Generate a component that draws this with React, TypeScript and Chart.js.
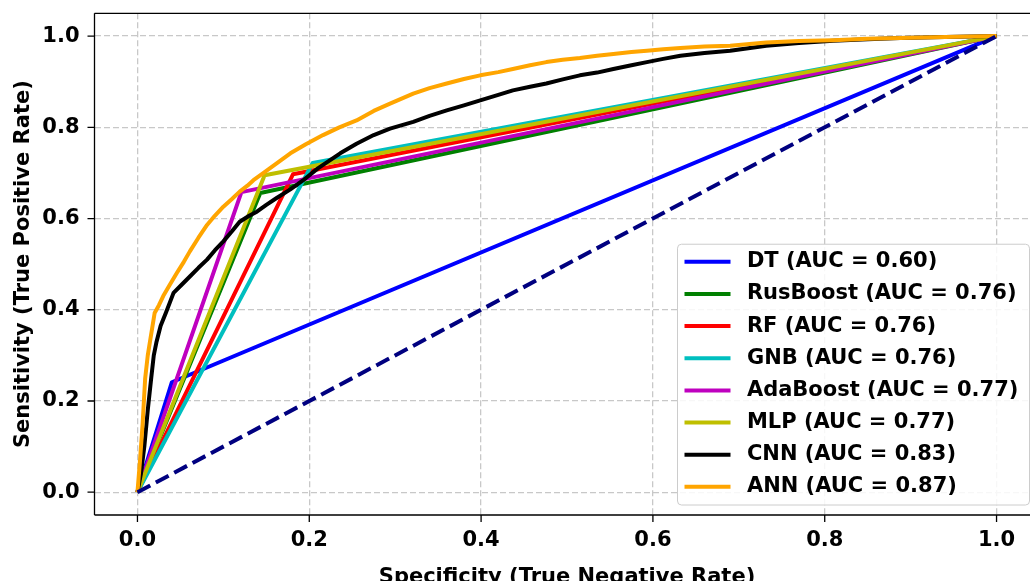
import React, { useEffect, useRef } from "react";
import { Chart, registerables } from "chart.js";

Chart.register(...registerables);

const FONT_FAMILY = '"DejaVu Sans", "Liberation Sans", sans-serif';

// Axis ticks (both axes share the same 0..1 scale)
const tickValues = [0, 0.2, 0.4, 0.6, 0.8, 1.0];
const tickLabels = ["0.0", "0.2", "0.4", "0.6", "0.8", "1.0"];

// Models, their AUC scores and line colours
const modelNames = ["DT", "RusBoost", "RF", "GNB", "AdaBoost", "MLP", "CNN", "ANN"];
const aucValues = [0.6, 0.76, 0.76, 0.76, 0.77, 0.77, 0.83, 0.87];
const lineColors = ["#0000ff", "#008000", "#ff0000", "#00bfbf", "#bf00bf", "#bfbf00", "#000000", "#ffa500"];

// ROC points: x = 1 - specificity axis value, y = sensitivity
const dtX = [0, 0.04, 1];
const dtY = [0, 0.241, 1];
const rusX = [0, 0.143, 1];
const rusY = [0, 0.656, 1];
const rfX = [0, 0.181, 1];
const rfY = [0, 0.697, 1];
const gnbX = [0, 0.204, 1];
const gnbY = [0, 0.722, 1];
const adaX = [0, 0.121, 1];
const adaY = [0, 0.658, 1];
const mlpX = [0, 0.148, 1];
const mlpY = [0, 0.695, 1];

const cnnX = [0, 0.004, 0.008, 0.012, 0.016, 0.019, 0.022, 0.027, 0.033, 0.042, 0.052, 0.061, 0.071, 0.081, 0.09, 0.1, 0.11, 0.119, 0.13, 0.139, 0.15, 0.162, 0.178, 0.193, 0.21, 0.236, 0.255, 0.275, 0.294, 0.321, 0.34, 0.36, 0.38, 0.399, 0.42, 0.437, 0.457, 0.476, 0.495, 0.515, 0.535, 0.554, 0.575, 0.593, 0.612, 0.632, 0.66, 0.69, 0.732, 0.77, 0.81, 0.85, 0.888, 0.94, 1];
const cnnY = [0, 0.04, 0.1, 0.18, 0.25, 0.3, 0.328, 0.365, 0.393, 0.437, 0.456, 0.473, 0.492, 0.51, 0.53, 0.55, 0.572, 0.593, 0.606, 0.615, 0.63, 0.645, 0.664, 0.684, 0.71, 0.743, 0.764, 0.783, 0.797, 0.812, 0.825, 0.837, 0.848, 0.859, 0.871, 0.881, 0.889, 0.896, 0.905, 0.914, 0.92, 0.928, 0.936, 0.943, 0.95, 0.957, 0.963, 0.968, 0.979, 0.985, 0.99, 0.993, 0.996, 0.998, 1];

const annX = [0, 0.003, 0.006, 0.009, 0.012, 0.015, 0.02, 0.025, 0.03, 0.038, 0.046, 0.054, 0.061, 0.071, 0.081, 0.09, 0.1, 0.11, 0.119, 0.128, 0.135, 0.146, 0.16, 0.178, 0.196, 0.216, 0.235, 0.255, 0.275, 0.294, 0.321, 0.34, 0.36, 0.38, 0.399, 0.42, 0.437, 0.457, 0.476, 0.495, 0.515, 0.535, 0.554, 0.575, 0.593, 0.612, 0.632, 0.66, 0.69, 0.732, 0.77, 0.81, 0.85, 0.888, 0.94, 1];
const annY = [0, 0.07, 0.15, 0.25, 0.3, 0.335, 0.393, 0.41, 0.43, 0.456, 0.481, 0.505, 0.528, 0.558, 0.586, 0.606, 0.626, 0.643, 0.659, 0.672, 0.684, 0.699, 0.718, 0.743, 0.763, 0.783, 0.8, 0.815, 0.836, 0.852, 0.874, 0.886, 0.896, 0.906, 0.914, 0.921, 0.928, 0.936, 0.943, 0.948, 0.952, 0.957, 0.961, 0.965, 0.968, 0.971, 0.974, 0.977, 0.979, 0.986, 0.989, 0.991, 0.994, 0.996, 0.998, 1];

// Chance line
const chanceX = [0, 1];
const chanceY = [0, 1];

const seriesX = [dtX, rusX, rfX, gnbX, adaX, mlpX, cnnX, annX];
const seriesY = [dtY, rusY, rfY, gnbY, adaY, mlpY, cnnY, annY];

const toPoints = (xs: number[], ys: number[]) => xs.map((x, i) => ({ x, y: ys[i] }));

const tickFont = { family: FONT_FAMILY, size: 21, weight: "bold" as const };

// Draws the axes spines, outward tick marks and the boxed legend
const framePlugin = {
  id: "frameAndLegend",
  afterDraw(chart: any) {
    const { ctx, scales } = chart;
    const xs = scales.x;
    const ys = scales.y;
    const L = xs.left;
    const R = xs.right;
    const T = ys.top;
    const B = ys.bottom;
    ctx.save();

    ctx.strokeStyle = "#000";
    ctx.lineWidth = 1.3;
    ctx.lineCap = "butt";
    ctx.beginPath();
    ctx.moveTo(L, T);
    ctx.lineTo(R, T);
    ctx.moveTo(L, B);
    ctx.lineTo(R, B);
    ctx.moveTo(L, T);
    ctx.lineTo(L, B);
    ctx.moveTo(R, T);
    ctx.lineTo(R, B);
    for (const v of tickValues) {
      const px = xs.getPixelForValue(v);
      ctx.moveTo(px, B);
      ctx.lineTo(px, B + 7);
      const py = ys.getPixelForValue(v);
      ctx.moveTo(L - 7, py);
      ctx.lineTo(L, py);
    }
    ctx.stroke();

    // legend box in the lower-right corner
    const items = chart.data.datasets.filter((d: any) => d.label);
    const boxW = 352;
    const rowH = 32.14;
    const boxH = 17.6 * 2 + rowH * (items.length - 1) + 0.6;
    const right = R - 10;
    const bottom = B - 10;
    const left = right - boxW;
    const top = bottom - boxH;
    const r = 4;

    ctx.beginPath();
    ctx.moveTo(left + r, top);
    ctx.lineTo(right - r, top);
    ctx.arcTo(right, top, right, top + r, r);
    ctx.lineTo(right, bottom - r);
    ctx.arcTo(right, bottom, right - r, bottom, r);
    ctx.lineTo(left + r, bottom);
    ctx.arcTo(left, bottom, left, bottom - r, r);
    ctx.lineTo(left, top + r);
    ctx.arcTo(left, top, left + r, top, r);
    ctx.closePath();
    ctx.fillStyle = "rgba(255,255,255,0.85)";
    ctx.fill();
    ctx.strokeStyle = "#cccccc";
    ctx.lineWidth = 1;
    ctx.stroke();

    ctx.font = `bold 21px ${FONT_FAMILY}`;
    ctx.textBaseline = "middle";
    ctx.textAlign = "left";
    items.forEach((d: any, i: number) => {
      const cy = top + 17.6 + i * rowH;
      ctx.beginPath();
      ctx.strokeStyle = d.borderColor;
      ctx.lineWidth = 4;
      ctx.moveTo(left + 7, cy);
      ctx.lineTo(left + 53, cy);
      ctx.stroke();
      ctx.fillStyle = "#000";
      ctx.fillText(d.label, left + 69.4, cy);
    });

    ctx.restore();
  },
};

export default function App() {
  const canvasRef = useRef<HTMLCanvasElement | null>(null);

  useEffect(() => {
    if (!canvasRef.current) return;

    const modelSets = modelNames.map((name, i) => ({
      label: `${name} (AUC = ${aucValues[i].toFixed(2)})`,
      data: toPoints(seriesX[i], seriesY[i]),
      borderColor: lineColors[i],
      backgroundColor: lineColors[i],
      borderWidth: 4,
      showLine: true,
      pointRadius: 0,
      borderJoinStyle: "round" as const,
      borderCapStyle: "butt" as const,
      order: modelNames.length - i,
    }));

    const chanceSet = {
      label: "",
      data: toPoints(chanceX, chanceY),
      borderColor: "#000080",
      backgroundColor: "#000080",
      borderWidth: 4,
      borderDash: [14.5, 6.3],
      showLine: true,
      pointRadius: 0,
      order: 0,
    };

    const chart = new Chart(canvasRef.current, {
      type: "scatter",
      data: { datasets: [...modelSets, chanceSet] as any },
      options: {
        responsive: false,
        animation: false,
        devicePixelRatio: 1,
        layout: { padding: { top: 13.3, right: 20.5, left: 0, bottom: 0 } },
        plugins: { legend: { display: false }, tooltip: { enabled: false } },
        elements: { line: { tension: 0 } },
        scales: {
          x: {
            type: "linear",
            min: -0.05,
            max: 1.05,
            afterBuildTicks: (s: any) => {
              s.ticks = tickValues.map((value) => ({ value }));
            },
            afterFit: (s: any) => {
              s.height = 85;
              s.paddingLeft = 0;
              s.paddingRight = 0;
            },
            ticks: {
              callback: (v: any) => tickLabels[tickValues.indexOf(Number(v))] ?? "",
              padding: 13,
              font: tickFont,
              color: "#000",
              maxRotation: 0,
              autoSkip: false,
            },
            grid: { color: "#c8c8c8", lineWidth: 1.3, drawTicks: false, tickLength: 0 },
            border: { display: false, dash: [6, 3] },
            title: {
              display: true,
              text: "Specificity (True Negative Rate)",
              font: tickFont,
              color: "#000",
              padding: { top: 0, bottom: 10 },
            },
          },
          y: {
            type: "linear",
            min: -0.05,
            max: 1.05,
            afterBuildTicks: (s: any) => {
              s.ticks = tickValues.map((value) => ({ value }));
            },
            afterFit: (s: any) => {
              s.width = 94.5;
              s.paddingTop = 0;
              s.paddingBottom = 0;
            },
            ticks: {
              callback: (v: any) => tickLabels[tickValues.indexOf(Number(v))] ?? "",
              padding: 15,
              font: tickFont,
              color: "#000",
              autoSkip: false,
            },
            grid: { color: "#c8c8c8", lineWidth: 1.3, drawTicks: false, tickLength: 0 },
            border: { display: false, dash: [6, 3] },
            title: {
              display: true,
              text: "Sensitivity (True Positive Rate)",
              font: tickFont,
              color: "#000",
              padding: { top: 11, bottom: 0 },
            },
          },
        },
      },
      plugins: [framePlugin],
    });

    return () => chart.destroy();
  }, []);

  return (
    <div
      style={{
        position: "fixed",
        left: 0,
        top: 0,
        width: 1030,
        height: 581,
        overflow: "hidden",
        background: "#fff",
      }}
    >
      <canvas ref={canvasRef} width={1060} height={600} style={{ display: "block" }} />
    </div>
  );
}
